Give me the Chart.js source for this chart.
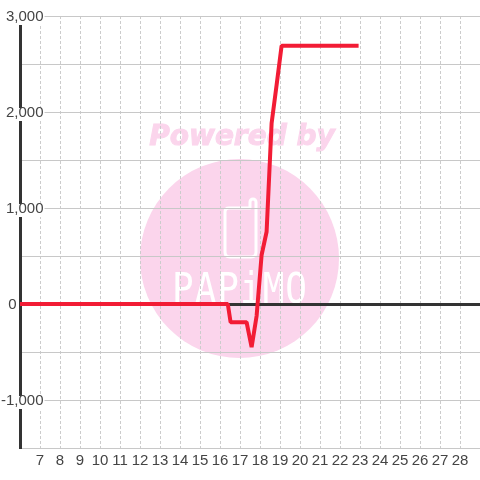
<!DOCTYPE html>
<html>
<head>
<meta charset="utf-8">
<script src="https://cdn.jsdelivr.net/npm/chart.js@4"></script>
<style>
  html, body { margin: 0; padding: 0; background: #fff; }
  canvas { display: block; }
</style>
</head>
<body>
<canvas id="grafica" width="480" height="480"></canvas>
<script>
const hours = [5.9, 16.39, 16.53, 17.33, 17.58, 17.83, 18.08, 18.33, 18.58, 18.83, 19.08, 22.93];
const values = [0, 0, -190, -190, -450, -125, 510, 753, 1882, 2281, 2690, 2690];
const xRange = [6, 29];
const yRange = [-1500, 3000];
const yStep = 500;

// fondo con la marca de agua, queda debajo de la rejilla
const marcaAgua = {
  id: "marcaAgua",
  beforeDraw(chart) {
    const ctx = chart.ctx;
    ctx.save();
    ctx.fillStyle = "#fff";
    ctx.fillRect(0, 0, 480, 480);

    ctx.fillStyle = "#fbd5ec";
    ctx.beginPath();
    ctx.arc(239.5, 258.5, 99.5, 0, Math.PI * 2);
    ctx.fill();

    ctx.font = "italic bold 28px 'DejaVu Sans'";
    ctx.textAlign = "center";
    ctx.textBaseline = "alphabetic";
    ctx.strokeStyle = "#fbd5ec";
    ctx.lineWidth = 1;
    ctx.strokeText("Powered by", 242, 145);
    ctx.fillText("Powered by", 242, 145);

    ctx.strokeStyle = "#fff";
    ctx.lineWidth = 3;
    ctx.lineJoin = "round";
    ctx.beginPath();
    ctx.moveTo(229, 208);
    ctx.lineTo(250, 208);
    ctx.lineTo(250, 202);
    ctx.arc(253, 202, 3, Math.PI, 0);
    ctx.lineTo(256, 252);
    ctx.quadraticCurveTo(256, 257, 251, 257);
    ctx.lineTo(230, 257);
    ctx.quadraticCurveTo(225, 257, 225, 252);
    ctx.lineTo(225, 212);
    ctx.quadraticCurveTo(225, 208, 229, 208);
    ctx.stroke();

    ctx.fillStyle = "#fff";
    ctx.font = "36px 'DejaVu Sans Mono'";
    ctx.letterSpacing = "1px";
    ctx.translate(240, 303);
    ctx.scale(1, 1.2);
    ctx.fillText("PAPiMO", 0, 0);
    ctx.restore();

    // el 0 va pegado al eje, y las etiquetas bajan un poco con su fondo mas corto
    const etiquetas = chart.scales.y.getLabelItems();
    etiquetas.forEach((item) => {
      if (item.label === "0") item.options.translation[0] = 16.5;
      if (item.label !== "") item.options.translation[1] += 1;
      if (item.options.backdrop) {
        item.options.backdrop.top += 4;
        item.options.backdrop.height -= 5;
      }
    });
  },
};

new Chart(document.getElementById("grafica").getContext("2d"), {
  type: "line",
  data: {
    datasets: [
      {
        data: hours.map((h, i) => ({ x: h, y: values[i] })),
        borderColor: "#f21c35",
        borderWidth: 4,
        borderJoinStyle: "bevel",
        pointRadius: 0,
        tension: 0,
        fill: false,
      },
    ],
  },
  options: {
    responsive: false,
    animation: false,
    layout: { padding: { left: 20, top: 16, right: 0, bottom: 10 } },
    plugins: { legend: { display: false }, tooltip: { enabled: false } },
    scales: {
      x: {
        type: "linear",
        min: xRange[0],
        max: xRange[1],
        grid: {
          color: "#cccccc",
          lineWidth: 1,
          tickLength: 4,
          tickColor: "transparent",
        },
        border: { display: false, dash: [3, 2] },
        ticks: {
          stepSize: 1,
          autoSkip: false,
          maxRotation: 0,
          padding: 0,
          color: "#444",
          font: { family: "'Liberation Sans'", size: 15 },
          callback: (v) => (v > xRange[0] && v < xRange[1] ? String(v) : ""),
        },
      },
      y: {
        min: yRange[0],
        max: yRange[1],
        afterFit: (scale) => {
          scale.width = 0;
        },
        grid: {
          drawTicks: false,
          color: (c) => (c.tick.value === 0 ? "#333" : "#c8c8c8"),
          lineWidth: (c) => (c.tick.value === 0 ? 3 : 1),
        },
        border: { color: "#333", width: 3 },
        ticks: {
          stepSize: yStep,
          autoSkip: false,
          mirror: true,
          crossAlign: "far",
          padding: -19,
          color: "#444",
          font: { family: "'Liberation Sans'", size: 15 },
          showLabelBackdrop: (c) => c.tick.value % 1000 === 0 && c.tick.value !== 0,
          backdropColor: "#fff",
          backdropPadding: { left: 0, right: 1, top: 0, bottom: 0 },
          callback: (v) => (v % 1000 === 0 ? v.toLocaleString("en-US") : ""),
        },
      },
    },
  },
  plugins: [marcaAgua],
});
</script>
</body>
</html>
